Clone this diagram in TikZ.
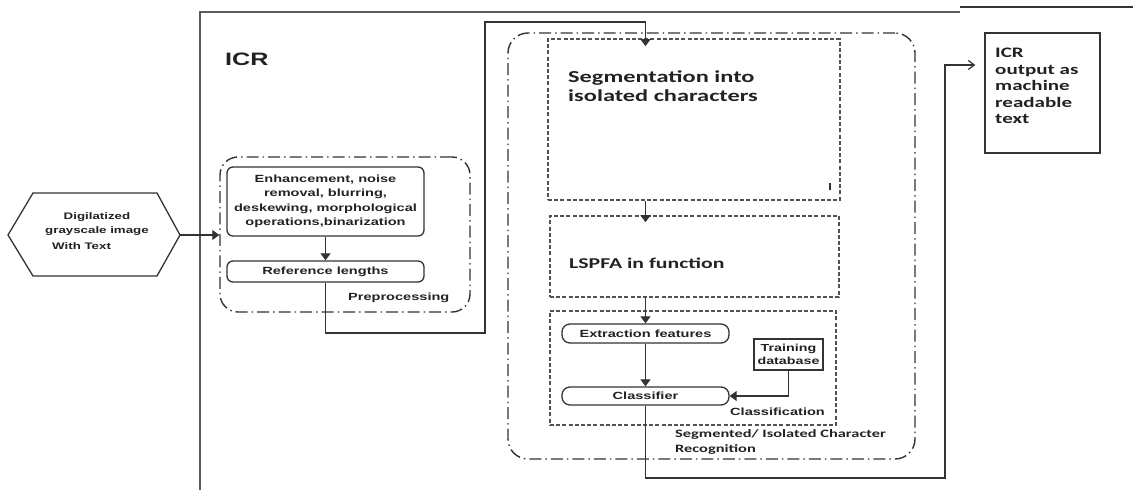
\documentclass[tikz,border=0pt]{standalone}
\usepackage{fontspec}
\usetikzlibrary{arrows.meta,calc}
\newfontfamily\arx[FakeStretch=1.4]{Liberation Sans}
\newfontfamily\cbx[FakeStretch=1.45]{Carlito}
\definecolor{ln}{HTML}{333333}
\definecolor{tx}{HTML}{222222}
\definecolor{fr}{HTML}{5A5A5A}
\begin{document}
\begin{tikzpicture}[x=1pt,y=-1pt,
  ddot/.style={draw=ln, line width=1.4pt, dash pattern=on 12pt off 4pt on 1.5pt off 4pt, rounded corners=18pt},
  dbox/.style={draw=ln!85, line width=1.6pt, dash pattern=on 4pt off 2.2pt},
  rbox/.style={draw=ln, line width=1.3pt, rounded corners=6pt},
  sbox/.style={draw=ln, line width=1.4pt},
  box/.style={rectangle, inner sep=0pt, text=tx},
  txt/.style={inner sep=0pt, text=tx},
  ar/.style={font=\arx\bfseries\fontsize{10.4}{14.5}\selectfont},
  arr/.style={draw=ln, line width=1.2pt, -{Triangle[length=7pt,width=10pt]}},
  barb/.style={draw=ln, line width=1.2pt, -{Straight Barb[length=6pt,width=9pt]}}
]
\useasboundingbox (0,0) rectangle (1133,490);

% outer frame and page line
\draw[draw=fr, line width=2pt] (200,490) -- (200,12) -- (960,12);
\draw[draw=ln, line width=2pt] (960,7) -- (1133,7);
\node[txt, anchor=base west, font=\arx\bfseries\fontsize{18}{20}\selectfont] (icr) at (225,65) {ICR};

% input hexagon
\draw[draw=ln, line width=1.3pt] (8,235) -- (33,193) -- (157,193) -- (180,235) -- (157,276) -- (33,276) -- cycle;
\coordinate (hexE) at (180,235);
\node[txt, align=center, font=\arx\bfseries\fontsize{9.5}{13.5}\selectfont] (hexT) at (97,224) {Digilatized\\grayscale image};
\node[txt, anchor=base west, font=\arx\bfseries\fontsize{9.5}{13.5}\selectfont] (hexT2) at (52,249) {With Text};

% preprocessing
\node[box, ddot, minimum width=250pt, minimum height=155pt] (prep) at (345,234.5) {};
\node[box, rbox, ar, align=center, minimum width=197pt, minimum height=69pt] (enh) at (325.5,201.5)
  {Enhancement, noise\\removal, blurring,\\deskewing, morphological\\operations,binarization};
\node[box, rbox, ar, minimum width=197pt, minimum height=21pt] (ref) at (325.5,271.5) {Reference lengths};
\node[txt, ar, anchor=base west] (prepL) at (348,300) {Preprocessing};

% segmented / isolated character recognition
\node[box, ddot, rounded corners=20pt, minimum width=407pt, minimum height=426pt] (sicr) at (711.5,246) {};
\node[box, dbox, minimum width=292pt, minimum height=161pt] (segm) at (694,119.5) {};
\node[txt, align=left, anchor=north west, font=\cbx\bfseries\fontsize{16.8}{19}\selectfont] (segmT) at (568,70)
  {Segmentation into\\isolated characters};
\draw[draw=ln, line width=1.2pt] (830,183) -- (830,190);

\node[box, dbox, minimum width=289pt, minimum height=81pt] (lspfa) at (694.5,256.5) {};
\node[txt, anchor=base west, font=\cbx\bfseries\fontsize{15}{17}\selectfont] (lspfaT) at (569,268) {LSPFA in function};

\node[box, dbox, minimum width=286pt, minimum height=114pt] (clsn) at (693,368) {};
\node[box, rbox, rounded corners=8pt, ar, minimum width=167pt, minimum height=19pt] (ext) at (645.5,333.5) {Extraction features};
\node[box, rbox, rounded corners=8pt, ar, minimum width=167pt, minimum height=18pt] (cls) at (645.5,396) {Classifier};
\node[box, sbox, align=center, font=\arx\bfseries\fontsize{10.2}{12.5}\selectfont, minimum width=69pt, minimum height=31pt] (train) at (788.5,354.5) {Training\\database};
\node[txt, ar, anchor=base west] (clsnL) at (730,415) {Classification};
\node[txt, align=left, anchor=north west, font=\cbx\bfseries\fontsize{11.3}{15}\selectfont] (sicrL) at (675,429)
  {Segmented/ Isolated Character\\Recognition};

% output
\node[box, sbox, minimum width=115pt, minimum height=120pt] (out) at (1042.5,93) {};
\node[txt, align=left, anchor=north west, font=\cbx\bfseries\fontsize{14.5}{16.5}\selectfont] (outT) at (995,48)
  {ICR\\output as\\machine\\readable\\text};

% connectors
\coordinate (c1) at (485,333);
\coordinate (c2) at (485,22);
\coordinate (c3) at (945,478);
\coordinate (c4) at (945,65);
\draw[arr] (hexE) -- (prep.west |- hexE);
\draw[arr] (enh.south) -- (ref.north);
\draw[arr, shorten >=-8pt] (ref.south) |- (c1) -- (c2) -- (ext.north |- c2) -- (ext.north |- segm.north);
\draw[arr, shorten >=-7pt] (ext.north |- segm.south) -- (ext.north |- lspfa.north);
\draw[arr] (ext.north |- lspfa.south) -- (ext.north);
\draw[arr] (ext.south) -- (cls.north);
\draw[arr] (train.south) |- (cls.east);
\draw[barb, shorten >=9pt] (cls.south) |- (c3) -- (c4) -- (out.west |- c4);
\end{tikzpicture}
\end{document}
